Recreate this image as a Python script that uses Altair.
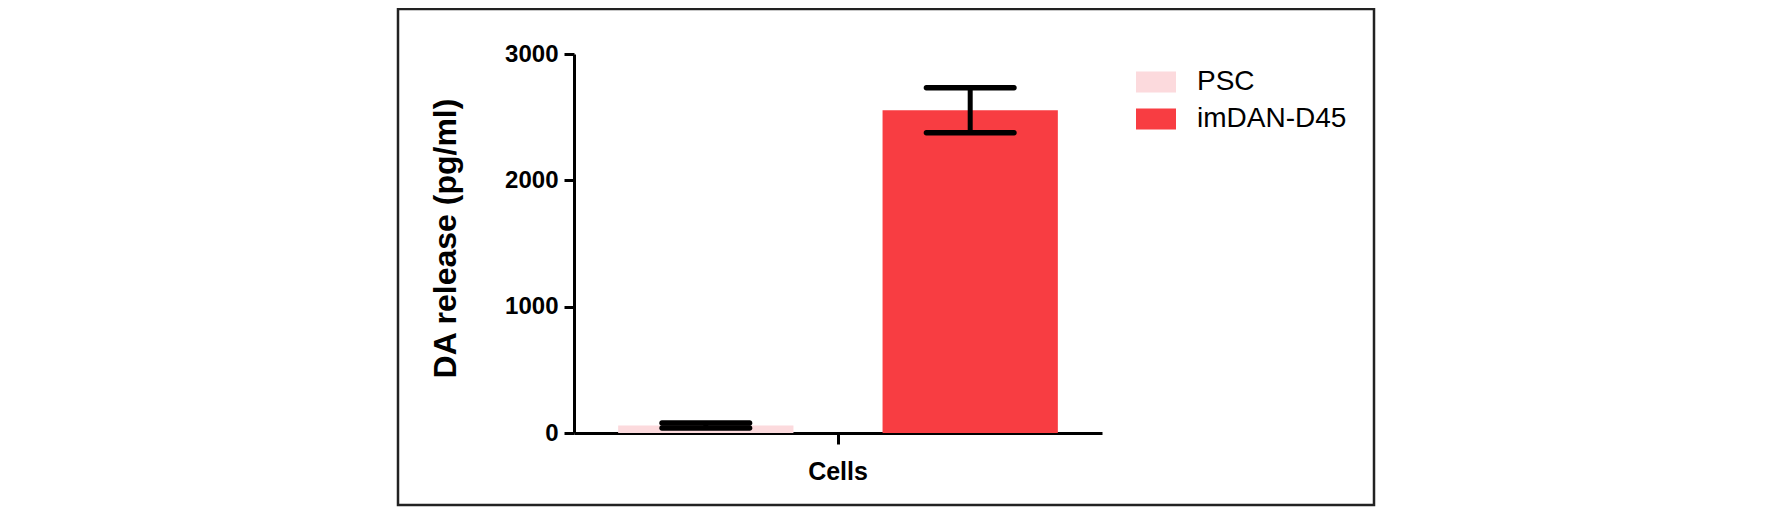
import altair as alt
import pandas as pd

# ---- data ----
groups = ["PSC", "imDAN-D45"]
category = ["Cells", "Cells"]
means = [59, 2555]
errors = [20, 178]
colors = ["#fcdadd", "#f83d42"]
y_ticks = [0, 1000, 2000, 3000]

df = pd.DataFrame({"cat": category, "group": groups, "mean": means, "err": errors})
df["low"] = df["mean"] - df["err"]
df["high"] = df["mean"] + df["err"]

FONT = "Liberation Sans"

x_enc = alt.X("cat:N", title=None,
              scale=alt.Scale(paddingInner=0, paddingOuter=0),
              axis=alt.Axis(labelAngle=0, labelFontSize=25, labelFontWeight="bold",
                            labelFont=FONT, labelColor="black", labelPadding=15,
                            domainColor="black", domainWidth=3, tickColor="black",
                            tickWidth=3, tickSize=11))
xo_enc = alt.XOffset("group:N", sort=groups,
                     scale=alt.Scale(paddingInner=0.337, paddingOuter=0.167))
y_scale = alt.Scale(domain=[0, 3000], nice=False)

base = alt.Chart(df)

bars = base.mark_bar().encode(
    x=x_enc,
    xOffset=xo_enc,
    y=alt.Y("mean:Q", scale=y_scale, title="DA release (pg/ml)",
            axis=alt.Axis(values=y_ticks, format="d", grid=False, labelFontSize=24,
                          labelFontWeight="bold", labelFont=FONT, labelColor="black",
                          labelPadding=6, tickSize=10, tickWidth=3, tickColor="black",
                          domainColor="black", domainWidth=3,
                          titleFont=FONT, titleFontSize=32, titleFontWeight="bold",
                          titleColor="black", titlePadding=42, titleY=184)),
    color=alt.Color("group:N", sort=groups,
                    scale=alt.Scale(domain=groups, range=colors),
                    legend=alt.Legend(title=None, orient="none", legendX=562, legendY=8,
                                      padding=0, symbolType="M-1,-0.53H1V0.53H-1Z",
                                      symbolSize=1600, symbolStrokeWidth=0,
                                      labelFontSize=28, labelFont=FONT,
                                      labelColor="black", labelOffset=21,
                                      rowPadding=3)),
)

stems = base.mark_rule(color="black", strokeWidth=5).encode(
    x=alt.X("cat:N"), xOffset=alt.XOffset("group:N", sort=groups),
    y=alt.Y("low:Q", scale=y_scale), y2="high:Q",
)

caps_hi = base.mark_tick(color="black", size=93, thickness=5.5, cornerRadius=2.5, opacity=1).encode(
    x=alt.X("cat:N"), xOffset=alt.XOffset("group:N", sort=groups),
    y=alt.Y("high:Q", scale=y_scale),
)
caps_lo = base.mark_tick(color="black", size=93, thickness=5.5, cornerRadius=2.5, opacity=1).encode(
    x=alt.X("cat:N"), xOffset=alt.XOffset("group:N", sort=groups),
    y=alt.Y("low:Q", scale=y_scale),
)

frame = alt.Chart(pd.DataFrame({"f": [0]})).mark_rect(
    fillOpacity=0, stroke="#222222", strokeWidth=2.5
).encode(
    x=alt.value(-176), x2=alt.value(800), y=alt.value(-45), y2=alt.value(451)
)

chart = alt.layer(bars, stems, caps_hi, caps_lo, frame).properties(
    width=528, height=379,
    autosize=alt.AutoSizeParams(type="none"),
    padding={"left": 566, "top": 46, "right": 300, "bottom": 74},
).configure_view(stroke="transparent")

chart.save("out.html", embed_options={"renderer": "svg", "actions": False})
